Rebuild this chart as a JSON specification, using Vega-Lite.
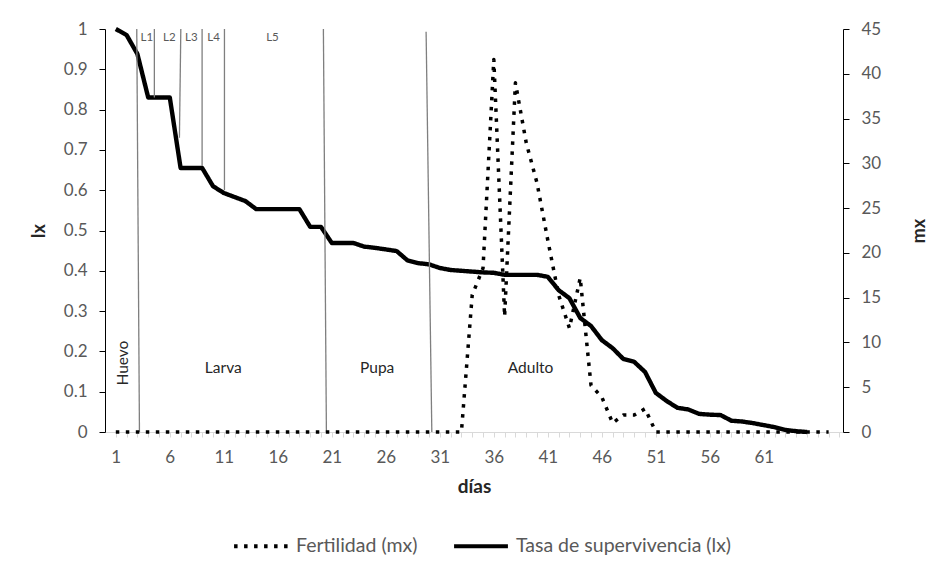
{
  "$schema": "https://vega.github.io/schema/vega-lite/v6.json",
  "width": 738,
  "height": 403,
  "autosize": {"type": "none"},
  "padding": {"left": 105, "top": 29, "right": 88, "bottom": 147},
  "background": "white",
  "config": {
    "view": {"stroke": null},
    "font": "Lato",
    "axis": {"grid": false},
    "axisX": {
      "labelOverlap": false,
      "domainColor": "#d9d9d9", "tickColor": "#d9d9d9", "tickSize": 5,
      "labelColor": "#595959", "labelFontSize": 17, "labelPadding": 12,
      "titleFontSize": 19, "titleFontWeight": "bold", "titleColor": "#262626", "titlePadding": 12
    }
  },
  "datasets": {
    "dias": [
      {"dia": 1, "lx": 1.0, "mx": 0},
      {"dia": 2, "lx": 0.985, "mx": 0},
      {"dia": 3, "lx": 0.938, "mx": 0},
      {"dia": 4, "lx": 0.83, "mx": 0},
      {"dia": 5, "lx": 0.83, "mx": 0},
      {"dia": 6, "lx": 0.83, "mx": 0},
      {"dia": 7, "lx": 0.655, "mx": 0},
      {"dia": 8, "lx": 0.655, "mx": 0},
      {"dia": 9, "lx": 0.655, "mx": 0},
      {"dia": 10, "lx": 0.61, "mx": 0},
      {"dia": 11, "lx": 0.593, "mx": 0},
      {"dia": 12, "lx": 0.583, "mx": 0},
      {"dia": 13, "lx": 0.573, "mx": 0},
      {"dia": 14, "lx": 0.553, "mx": 0},
      {"dia": 15, "lx": 0.553, "mx": 0},
      {"dia": 16, "lx": 0.553, "mx": 0},
      {"dia": 17, "lx": 0.553, "mx": 0},
      {"dia": 18, "lx": 0.553, "mx": 0},
      {"dia": 19, "lx": 0.509, "mx": 0},
      {"dia": 20, "lx": 0.509, "mx": 0},
      {"dia": 21, "lx": 0.469, "mx": 0},
      {"dia": 22, "lx": 0.469, "mx": 0},
      {"dia": 23, "lx": 0.469, "mx": 0},
      {"dia": 24, "lx": 0.46, "mx": 0},
      {"dia": 25, "lx": 0.457, "mx": 0},
      {"dia": 26, "lx": 0.453, "mx": 0},
      {"dia": 27, "lx": 0.449, "mx": 0},
      {"dia": 28, "lx": 0.426, "mx": 0},
      {"dia": 29, "lx": 0.419, "mx": 0},
      {"dia": 30, "lx": 0.416, "mx": 0},
      {"dia": 31, "lx": 0.407, "mx": 0},
      {"dia": 32, "lx": 0.402, "mx": 0},
      {"dia": 33, "lx": 0.4, "mx": 0},
      {"dia": 34, "lx": 0.398, "mx": 15.3},
      {"dia": 35, "lx": 0.396, "mx": 18.3},
      {"dia": 36, "lx": 0.395, "mx": 41.6},
      {"dia": 37, "lx": 0.39, "mx": 12.9},
      {"dia": 38, "lx": 0.39, "mx": 39.0},
      {"dia": 39, "lx": 0.39, "mx": 32.3},
      {"dia": 40, "lx": 0.39, "mx": 27.8},
      {"dia": 41, "lx": 0.385, "mx": 21.4},
      {"dia": 42, "lx": 0.352, "mx": 15.3},
      {"dia": 43, "lx": 0.332, "mx": 11.6},
      {"dia": 44, "lx": 0.283, "mx": 17.2},
      {"dia": 45, "lx": 0.263, "mx": 5.2},
      {"dia": 46, "lx": 0.228, "mx": 3.9},
      {"dia": 47, "lx": 0.208, "mx": 1.0},
      {"dia": 48, "lx": 0.181, "mx": 1.9},
      {"dia": 49, "lx": 0.174, "mx": 1.9},
      {"dia": 50, "lx": 0.149, "mx": 2.6},
      {"dia": 51, "lx": 0.097, "mx": 0},
      {"dia": 52, "lx": 0.077, "mx": 0},
      {"dia": 53, "lx": 0.06, "mx": 0},
      {"dia": 54, "lx": 0.056, "mx": 0},
      {"dia": 55, "lx": 0.045, "mx": 0},
      {"dia": 56, "lx": 0.043, "mx": 0},
      {"dia": 57, "lx": 0.042, "mx": 0},
      {"dia": 58, "lx": 0.028, "mx": 0},
      {"dia": 59, "lx": 0.026, "mx": 0},
      {"dia": 60, "lx": 0.022, "mx": 0},
      {"dia": 61, "lx": 0.017, "mx": 0},
      {"dia": 62, "lx": 0.012, "mx": 0},
      {"dia": 63, "lx": 0.005, "mx": 0},
      {"dia": 64, "lx": 0.002, "mx": 0},
      {"dia": 65, "lx": 0, "mx": 0},
      {"dia": 66, "lx": null, "mx": 0},
      {"dia": 67, "lx": null, "mx": 0}
    ],
    "limites": [
      {"xa": 2.94, "xb": 3.19, "ya": 1.0, "yb": 0},
      {"xa": 4.57, "xb": 4.57, "ya": 1.0, "yb": 0.83},
      {"xa": 7.02, "xb": 6.89, "ya": 1.0, "yb": 0.73},
      {"xa": 8.99, "xb": 8.99, "ya": 1.0, "yb": 0.66},
      {"xa": 11.06, "xb": 11.06, "ya": 1.0, "yb": 0.6},
      {"xa": 20.22, "xb": 20.5, "ya": 1.0, "yb": 0},
      {"xa": 29.73, "xb": 30.26, "ya": 0.993, "yb": 0}
    ],
    "estadios": [
      {"t": "L1", "x": 3.87, "y": 0.978},
      {"t": "L2", "x": 5.95, "y": 0.978},
      {"t": "L3", "x": 8.0, "y": 0.978},
      {"t": "L4", "x": 10.05, "y": 0.978},
      {"t": "L5", "x": 15.5, "y": 0.978}
    ],
    "fases": [
      {"t": "Larva", "x": 10.95, "y": 0.159},
      {"t": "Pupa", "x": 25.2, "y": 0.159},
      {"t": "Adulto", "x": 39.4, "y": 0.159}
    ],
    "huevo": [
      {"t": "Huevo", "x": 1.7, "y": 0.171}
    ]
  },
  "layer": [
    {
      "layer": [
        {
          "data": {"name": "dias"},
          "transform": [{"filter": "isValid(datum.lx)"}],
          "mark": {"type": "line", "color": "black", "strokeWidth": 4.4, "strokeJoin": "round", "strokeCap": "butt"},
          "encoding": {
            "x": {
              "field": "dia", "type": "quantitative",
              "scale": {"domain": [0, 68.33], "nice": false, "zero": false},
              "axis": {"title": "días", "values": [1,2,3,4,5,6,7,8,9,10,11,12,13,14,15,16,17,18,19,20,21,22,23,24,25,26,27,28,29,30,31,32,33,34,35,36,37,38,39,40,41,42,43,44,45,46,47,48,49,50,51,52,53,54,55,56,57,58,59,60,61,62,63,64,65,66,67,68], "labelExpr": "(datum.value - 1) % 5 == 0 && datum.value <= 61 ? datum.label : ''", "labelOverlap": false}
            },
            "y": {
              "field": "lx", "type": "quantitative",
              "scale": {"domain": [0, 1], "nice": false},
              "axis": {
                "title": "lx", "values": [0,0.1,0.2,0.3,0.4,0.5,0.6,0.7,0.8,0.9,1], "format": "~g",
                "domainColor": "black", "tickColor": "black", "tickSize": 6,
                "labelColor": "#595959", "labelFontSize": 17, "labelPadding": 12,
                "titleFontSize": 18, "titleFontWeight": "bold", "titleColor": "#262626", "titleAngle": 270, "titlePadding": 15
              }
            },
            "strokeDash": {
              "datum": "Tasa de supervivencia (lx)",
              "scale": {"domain": ["Fertilidad (mx)", "Tasa de supervivencia (lx)"], "range": [[3.5, 6.5], [1, 0]]},
              "legend": {
                "orient": "none", "legendX": 127, "legendY": 488, "direction": "horizontal", "title": null, "padding": 0,
                "symbolType": "stroke", "symbolSize": 2900, "symbolStrokeWidth": 3.8, "symbolStrokeColor": "black",
                "labelFontSize": 19.5, "labelColor": "#595959", "labelLimit": 500, "columnPadding": 28, "labelOffset": 6
              }
            }
          }
        },
        {
          "data": {"name": "limites"},
          "mark": {"type": "rule", "color": "#7f7f7f", "strokeWidth": 1.3},
          "encoding": {
            "x": {"field": "xa", "type": "quantitative", "axis": {"title": "días", "values": [1,2,3,4,5,6,7,8,9,10,11,12,13,14,15,16,17,18,19,20,21,22,23,24,25,26,27,28,29,30,31,32,33,34,35,36,37,38,39,40,41,42,43,44,45,46,47,48,49,50,51,52,53,54,55,56,57,58,59,60,61,62,63,64,65,66,67,68], "labelExpr": "(datum.value - 1) % 5 == 0 && datum.value <= 61 ? datum.label : ''", "labelOverlap": false}},
            "x2": {"field": "xb"},
            "y": {"field": "ya", "type": "quantitative", "axis": {"title": "lx", "values": [0,0.1,0.2,0.3,0.4,0.5,0.6,0.7,0.8,0.9,1], "format": "~g"}},
            "y2": {"field": "yb"}
          }
        },
        {
          "data": {"name": "estadios"},
          "mark": {"type": "text", "fontSize": 11.5, "color": "#595959", "align": "center", "baseline": "middle"},
          "encoding": {
            "x": {"field": "x", "type": "quantitative", "axis": {"title": "días", "values": [1,2,3,4,5,6,7,8,9,10,11,12,13,14,15,16,17,18,19,20,21,22,23,24,25,26,27,28,29,30,31,32,33,34,35,36,37,38,39,40,41,42,43,44,45,46,47,48,49,50,51,52,53,54,55,56,57,58,59,60,61,62,63,64,65,66,67,68], "labelExpr": "(datum.value - 1) % 5 == 0 && datum.value <= 61 ? datum.label : ''", "labelOverlap": false}},
            "y": {"field": "y", "type": "quantitative", "axis": {"title": "lx", "values": [0,0.1,0.2,0.3,0.4,0.5,0.6,0.7,0.8,0.9,1], "format": "~g"}},
            "text": {"field": "t"}
          }
        },
        {
          "data": {"name": "fases"},
          "mark": {"type": "text", "fontSize": 15.5, "color": "#262626", "align": "center", "baseline": "middle"},
          "encoding": {
            "x": {"field": "x", "type": "quantitative", "axis": {"title": "días", "values": [1,2,3,4,5,6,7,8,9,10,11,12,13,14,15,16,17,18,19,20,21,22,23,24,25,26,27,28,29,30,31,32,33,34,35,36,37,38,39,40,41,42,43,44,45,46,47,48,49,50,51,52,53,54,55,56,57,58,59,60,61,62,63,64,65,66,67,68], "labelExpr": "(datum.value - 1) % 5 == 0 && datum.value <= 61 ? datum.label : ''", "labelOverlap": false}},
            "y": {"field": "y", "type": "quantitative", "axis": {"title": "lx", "values": [0,0.1,0.2,0.3,0.4,0.5,0.6,0.7,0.8,0.9,1], "format": "~g"}},
            "text": {"field": "t"}
          }
        },
        {
          "data": {"name": "huevo"},
          "mark": {"type": "text", "fontSize": 15.5, "color": "#262626", "align": "center", "baseline": "middle", "angle": 270},
          "encoding": {
            "x": {"field": "x", "type": "quantitative", "axis": {"title": "días", "values": [1,2,3,4,5,6,7,8,9,10,11,12,13,14,15,16,17,18,19,20,21,22,23,24,25,26,27,28,29,30,31,32,33,34,35,36,37,38,39,40,41,42,43,44,45,46,47,48,49,50,51,52,53,54,55,56,57,58,59,60,61,62,63,64,65,66,67,68], "labelExpr": "(datum.value - 1) % 5 == 0 && datum.value <= 61 ? datum.label : ''", "labelOverlap": false}},
            "y": {"field": "y", "type": "quantitative", "axis": {"title": "lx", "values": [0,0.1,0.2,0.3,0.4,0.5,0.6,0.7,0.8,0.9,1], "format": "~g"}},
            "text": {"field": "t"}
          }
        }
      ]
    },
    {
      "data": {"name": "dias"},
      "mark": {"type": "line", "color": "black", "strokeWidth": 3.5, "strokeJoin": "round"},
      "encoding": {
        "x": {"field": "dia", "type": "quantitative", "axis": {"title": "días", "values": [1,2,3,4,5,6,7,8,9,10,11,12,13,14,15,16,17,18,19,20,21,22,23,24,25,26,27,28,29,30,31,32,33,34,35,36,37,38,39,40,41,42,43,44,45,46,47,48,49,50,51,52,53,54,55,56,57,58,59,60,61,62,63,64,65,66,67,68], "labelExpr": "(datum.value - 1) % 5 == 0 && datum.value <= 61 ? datum.label : ''", "labelOverlap": false}},
        "y": {
          "field": "mx", "type": "quantitative",
          "scale": {"domain": [0, 45], "nice": false},
          "axis": {
            "orient": "right", "title": "mx", "values": [0,5,10,15,20,25,30,35,40,45],
            "domainColor": "black", "tickColor": "black", "tickSize": 6,
            "labelColor": "#595959", "labelFontSize": 17, "labelPadding": 12,
            "titleFontSize": 18, "titleFontWeight": "bold", "titleColor": "#262626", "titleAngle": 270, "titlePadding": 48
          }
        },
        "strokeDash": {"datum": "Fertilidad (mx)"}
      }
    }
  ],
  "resolve": {"scale": {"y": "independent"}}
}
